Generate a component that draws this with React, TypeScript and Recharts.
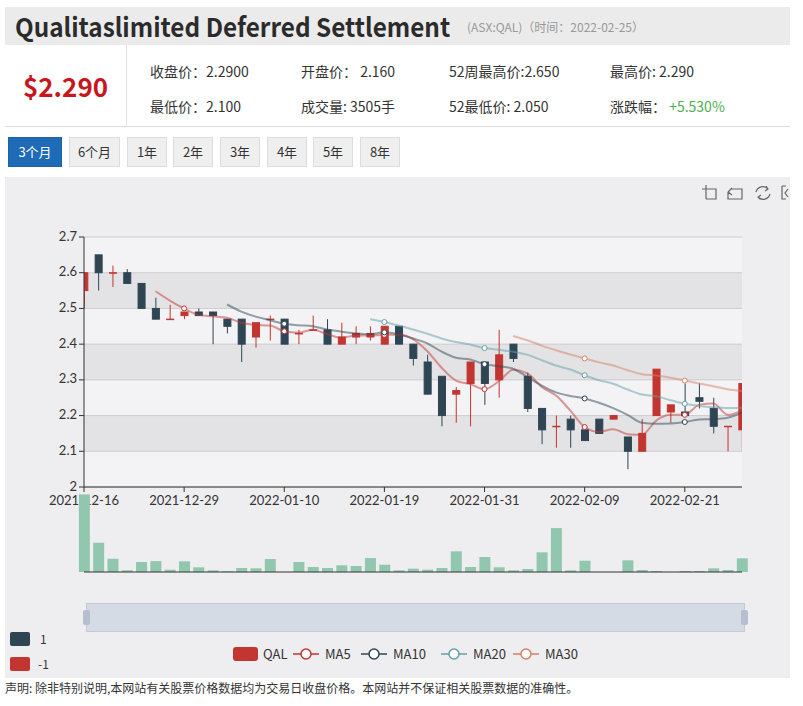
import { Bar, CartesianGrid, ComposedChart, Line, XAxis, YAxis } from 'recharts';

const dates = [
  '2021-12-16', '2021-12-17', '2021-12-20', '2021-12-21', '2021-12-22', '2021-12-23', '2021-12-24',
  '2021-12-29', '2021-12-30', '2021-12-31', '2022-01-04', '2022-01-05', '2022-01-06', '2022-01-07',
  '2022-01-10', '2022-01-11', '2022-01-12', '2022-01-13', '2022-01-14', '2022-01-17', '2022-01-18',
  '2022-01-19', '2022-01-20', '2022-01-21', '2022-01-24', '2022-01-25', '2022-01-27', '2022-01-28',
  '2022-01-31', '2022-02-01', '2022-02-02', '2022-02-03', '2022-02-04', '2022-02-07', '2022-02-08',
  '2022-02-09', '2022-02-10', '2022-02-11', '2022-02-14', '2022-02-15', '2022-02-16', '2022-02-17',
  '2022-02-21', '2022-02-22', '2022-02-23', '2022-02-24', '2022-02-25',
];

const openPrices = [
  2.55, 2.65, 2.6, 2.6, 2.57, 2.5, 2.47, 2.48, 2.49, 2.49, 2.47, 2.47, 2.42, 2.47, 2.47, 2.43,
  2.44, 2.44, 2.4, 2.42, 2.42, 2.4, 2.45, 2.4, 2.35, 2.31, 2.26, 2.29, 2.35, 2.3, 2.4, 2.31,
  2.22, 2.17, 2.19, 2.16, 2.19, 2.19, 2.14, 2.1, 2.2, 2.21, 2.21, 2.25, 2.22, 2.17, 2.16,
];
const closePrices = [
  2.6, 2.6, 2.6, 2.57, 2.5, 2.47, 2.47, 2.49, 2.48, 2.48, 2.45, 2.4, 2.46, 2.47, 2.4, 2.43,
  2.44, 2.4, 2.42, 2.43, 2.43, 2.45, 2.4, 2.36, 2.26, 2.2, 2.27, 2.35, 2.29, 2.37, 2.36, 2.22,
  2.16, 2.17, 2.16, 2.13, 2.15, 2.2, 2.1, 2.15, 2.33, 2.23, 2.2, 2.24, 2.17, 2.17, 2.29,
];
const highPrices = [
  2.6, 2.65, 2.62, 2.61, 2.57, 2.53, 2.51, 2.49, 2.5, 2.49, 2.47, 2.47, 2.46, 2.48, 2.47, 2.44,
  2.48, 2.47, 2.46, 2.45, 2.45, 2.45, 2.45, 2.4, 2.37, 2.31, 2.28, 2.35, 2.35, 2.44, 2.4, 2.32,
  2.22, 2.2, 2.2, 2.16, 2.19, 2.2, 2.14, 2.19, 2.33, 2.23, 2.29, 2.29, 2.25, 2.17, 2.29,
];
const lowPrices = [
  2.5, 2.55, 2.56, 2.57, 2.5, 2.47, 2.47, 2.47, 2.48, 2.4, 2.43, 2.35, 2.39, 2.41, 2.4, 2.4,
  2.44, 2.4, 2.4, 2.4, 2.41, 2.4, 2.4, 2.34, 2.26, 2.17, 2.18, 2.17, 2.23, 2.25, 2.35, 2.21,
  2.12, 2.11, 2.11, 2.13, 2.15, 2.19, 2.05, 2.1, 2.2, 2.18, 2.2, 2.22, 2.15, 2.1, 2.1,
];
const volumes = [
  19900, 7500, 3400, 430, 2560, 2800, 600, 2740, 1200, 430, 180, 1020, 950, 3330, 0, 2560,
  1280, 1020, 1710, 1540, 3580, 1870, 430, 850, 600, 1020, 5300, 1280, 3840, 1200, 430, 770,
  5040, 11260, 430, 2890, 0, 0, 3000, 510, 260, 0, 260, 260, 950, 510, 3505,
];

const priceTicks = [2, 2.1, 2.2, 2.3, 2.4, 2.5, 2.6, 2.7];
const dateTicks = [0, 7, 14, 21, 28, 35, 42];
const maDays = [5, 10, 20, 30];
const maColors = ['#c23531', '#2f4554', '#61a0a8', '#d48265'];
const buttons = ['3个月', '6个月', '1年', '2年', '3年', '4年', '5年', '8年'];

const UP = '#c23531';
const DOWN = '#2f4554';

function movingAverage(days: number) {
  return closePrices.map((_, i) => {
    if (i < days) return null;
    let sum = 0;
    for (let j = 0; j < days; j++) sum += closePrices[i - j];
    return +(sum / days).toFixed(3);
  });
}

const maSeries = maDays.map(movingAverage);

const rows = dates.map((date, i) => {
  const open = openPrices[i];
  const close = closePrices[i];
  const up = close > open ? true : close < open ? false : i === 0 || closePrices[i - 1] <= close;
  return {
    idx: i,
    date,
    open,
    close,
    high: highPrices[i],
    low: lowPrices[i],
    range: [lowPrices[i], highPrices[i]],
    up,
    vol: volumes[i],
    ma5: maSeries[0][i],
    ma10: maSeries[1][i],
    ma20: maSeries[2][i],
    ma30: maSeries[3][i],
  };
});

function Candle(props: any) {
  const { x, y, width, height, payload } = props;
  if (x == null || y == null) return <g />;
  const { open, close, high, low, up } = payload;
  const color = up ? UP : DOWN;
  const cx = x + width / 2;
  const top = Math.min(y, y + height);
  const h = Math.abs(height);
  const span = high - low;
  const toY = (v: number) => (span === 0 ? top : top + (h * (high - v)) / span);
  const yo = toY(open);
  const yc = toY(close);
  const bodyTop = Math.min(yo, yc);
  const bodyH = Math.max(Math.abs(yo - yc), 0.5);
  return (
    <g>
      <line x1={cx} x2={cx} y1={top} y2={top + h} stroke={color} strokeWidth={1} />
      <rect x={cx - 3.5} y={bodyTop} width={7} height={bodyH} fill={color} stroke={color} strokeWidth={1} />
    </g>
  );
}

const maDot = (color: string) => (p: any) => {
  if (p.index % 7 !== 0 || p.value == null || p.cy == null) return <g key={`e${p.index}`} />;
  return <circle key={`d${p.index}`} cx={p.cx} cy={p.cy} r={2.5} fill="#fff" stroke={color} strokeWidth={1} />;
};

function LineIcon({ color }: { color: string }) {
  return (
    <svg width={26} height={14} style={{ display: 'block' }}>
      <line x1={0} x2={26} y1={7} y2={7} stroke={color} strokeWidth={1.5} />
      <circle cx={13} cy={7} r={5} fill="#fff" stroke={color} strokeWidth={1.5} />
    </svg>
  );
}

const abs = (left: number, top: number, extra: any = {}) => ({ position: 'absolute' as const, left, top, ...extra });

const tickStyle = { fontSize: 13, fill: '#333', fontFamily: 'Lato, sans-serif' };

export default function App() {
  const infoRow1 = [
    { x: 150, t: '收盘价：2.2900' },
    { x: 301, t: '开盘价： 2.160' },
    { x: 449, t: '52周最高价:2.650' },
    { x: 610, t: '最高价: 2.290' },
  ];
  const infoRow2 = [
    { x: 150, t: '最低价：2.100' },
    { x: 301, t: '成交量: 3505手' },
    { x: 449, t: '52最低价: 2.050' },
  ];
  const btnX = [8, 69, 127, 173, 220, 267, 313, 360];
  const btnW = [54, 51, 40, 40, 40, 40, 40, 40];
  const legendItems = [
    { x: 293, label: 'MA5', color: maColors[0] },
    { x: 361, label: 'MA10', color: maColors[1] },
    { x: 441, label: 'MA20', color: maColors[2] },
    { x: 513, label: 'MA30', color: maColors[3] },
  ];

  return (
    <div
      style={{
        position: 'absolute',
        left: 0,
        top: 0,
        width: 803,
        height: 706,
        background: '#fff',
        overflow: 'hidden',
        color: '#333',
        fontFamily: "'Noto Sans CJK SC', 'Noto Sans', sans-serif",
      }}
    >
      {/* title bar */}
      <div style={abs(5, 7, { width: 785, height: 38, background: '#ebebeb' })} />
      <div
        style={abs(15, 9, {
          fontSize: 26,
          fontWeight: 700,
          lineHeight: '34px',
          color: '#2b2b2b',
          whiteSpace: 'nowrap',
          transform: 'scaleX(0.935)',
          transformOrigin: 'left center',
        })}
      >
        Qualitaslimited Deferred Settlement
      </div>
      <div style={abs(467, 18, { fontSize: 12, lineHeight: '18px', color: '#999', whiteSpace: 'nowrap' })}>
        (ASX:QAL)（时间：2022-02-25）
      </div>

      {/* info box */}
      <div style={abs(5, 45, { width: 785, height: 82, borderBottom: '1px solid #dcdcdc', boxSizing: 'border-box' })} />
      <div style={abs(126, 45, { width: 1, height: 82, background: '#e2e2e2' })} />
      <div style={abs(5, 70, { width: 121, textAlign: 'center', fontSize: 26, fontWeight: 700, lineHeight: '32px', color: '#c8161d' })}>
        $2.290
      </div>
      {infoRow1.map((r) => (
        <div key={r.t} style={abs(r.x, 61, { fontSize: 14, lineHeight: '20px', whiteSpace: 'nowrap' })}>
          {r.t}
        </div>
      ))}
      {infoRow2.map((r) => (
        <div key={r.t} style={abs(r.x, 96, { fontSize: 14, lineHeight: '20px', whiteSpace: 'nowrap' })}>
          {r.t}
        </div>
      ))}
      <div style={abs(610, 96, { fontSize: 14, lineHeight: '20px', whiteSpace: 'nowrap' })}>
        涨跌幅： <span style={{ color: '#4cae4c' }}>+5.530%</span>
      </div>

      {/* period buttons */}
      {buttons.map((b, i) => (
        <div
          key={b}
          style={abs(btnX[i], 137, {
            width: btnW[i],
            height: 30,
            boxSizing: 'border-box',
            border: i === 0 ? '1px solid #1c63ad' : '1px solid #dcdcdc',
            background: i === 0 ? '#1e6bb8' : '#efefef',
            color: i === 0 ? '#fff' : '#333',
            fontSize: 13,
            lineHeight: '28px',
            textAlign: 'center',
          })}
        >
          {b}
        </div>
      ))}

      {/* chart panel */}
      <div style={abs(5, 177, { width: 785, height: 501, background: '#eeedef' })} />

      {/* toolbox */}
      <svg style={abs(700, 183)} width={103} height={20}>
        <g fill="none" stroke="#666" strokeWidth={1.2}>
          <path d="M6 2 V16 M2 6 H16 V16 H6" />
          <path d="M31 6 H42 V16 H28 V9 M28 9 L32 5 M28 9 L32 12" />
          <path d="M56 9 A7 7 0 0 1 68 6 M70 11 A7 7 0 0 1 58 14 M66 3 L68 6 L65 8 M60 16 L58 14 L61 12" />
          <path d="M82 3 H86 M82 3 V16 H86 M88 6 L85 10 L88 14" />
        </g>
      </svg>

      {/* price chart */}
      <div style={abs(0, 0)}>
        <ComposedChart width={803} height={706} data={rows} margin={{ top: 237, right: 61, bottom: 189, left: 44 }}>
          <CartesianGrid vertical={false} stroke="#cdcdd0" horizontalFill={['#f3f2f4', '#e3e3e5']} />
          <XAxis
            dataKey="idx"
            type="number"
            domain={[0, 46]}
            ticks={dateTicks}
            interval={0}
            allowDataOverflow
            tickFormatter={(v: number) => dates[v]}
            stroke="#333"
            tick={tickStyle}
            tickSize={5}
            tickMargin={4}
            height={30}
          />
          <YAxis
            type="number"
            domain={[2, 2.7]}
            ticks={priceTicks}
            interval={0}
            allowDataOverflow
            tickFormatter={(v: number) => (v === 2 ? '2' : v.toFixed(1))}
            stroke="#333"
            tick={{ ...tickStyle, dy: -1 }}
            tickSize={5}
            width={40}
          />
          <Bar dataKey="range" shape={<Candle />} barSize={9} isAnimationActive={false} />
          {['ma5', 'ma10', 'ma20', 'ma30'].map((k, i) => (
            <Line
              key={k}
              type="monotone"
              dataKey={k}
              stroke={maColors[i]}
              strokeOpacity={0.5}
              strokeWidth={2}
              dot={maDot(maColors[i])}
              activeDot={false}
              connectNulls={false}
              isAnimationActive={false}
            />
          ))}
        </ComposedChart>
      </div>

      {/* volume chart */}
      <div style={abs(0, 0)}>
        <ComposedChart width={803} height={706} data={rows} margin={{ top: 494, right: 61, bottom: 133, left: 84 }}>
          <XAxis dataKey="idx" type="number" domain={[0, 46]} tick={false} tickLine={false} stroke="#333" height={1} />
          <YAxis hide domain={[0, 20000]} />
          <Bar dataKey="vol" fill="#91c7ae" barSize={11} isAnimationActive={false} />
        </ComposedChart>
      </div>

      {/* data zoom slider */}
      <div style={abs(86, 603, { width: 659, height: 29, background: '#d5dbe4', border: '1px solid #c3cbd6', boxSizing: 'border-box' })} />
      <div style={abs(83, 610, { width: 7, height: 15, background: '#b4c0d0', borderRadius: 2 })} />
      <div style={abs(741, 610, { width: 7, height: 15, background: '#b4c0d0', borderRadius: 2 })} />

      {/* visual map pieces */}
      <div style={abs(10, 632, { width: 20, height: 14, background: DOWN, borderRadius: 2 })} />
      <div style={abs(40, 631, { fontSize: 12, lineHeight: '16px' })}>1</div>
      <div style={abs(10, 657, { width: 20, height: 14, background: UP, borderRadius: 2 })} />
      <div style={abs(38, 656, { fontSize: 12, lineHeight: '16px' })}>-1</div>

      {/* legend */}
      <div style={abs(233, 647, { width: 25, height: 14, background: UP, borderRadius: 3 })} />
      <div style={abs(263, 645, { fontSize: 13, lineHeight: '18px' })}>QAL</div>
      {legendItems.map((l) => (
        <div key={l.label} style={abs(l.x, 645, { display: 'flex', alignItems: 'center', height: 18 })}>
          <LineIcon color={l.color} />
          <span style={{ marginLeft: 6, fontSize: 13, lineHeight: '18px' }}>{l.label}</span>
        </div>
      ))}

      {/* footer */}
      <div style={abs(5, 680, { fontSize: 12, lineHeight: '16px', whiteSpace: 'nowrap' })}>
        声明: 除非特别说明,本网站有关股票价格数据均为交易日收盘价格。本网站并不保证相关股票数据的准确性。
      </div>
    </div>
  );
}
